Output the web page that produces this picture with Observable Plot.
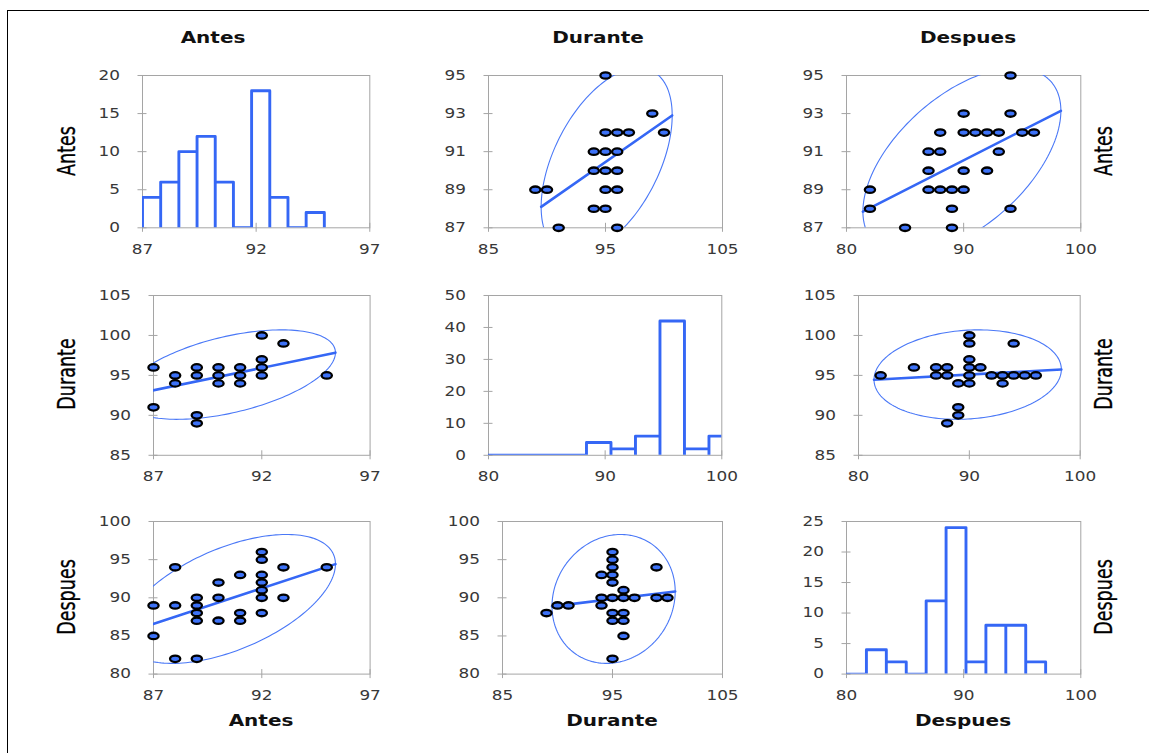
<!DOCTYPE html>
<html><head><meta charset="utf-8">
<script src="https://cdn.jsdelivr.net/npm/d3@7"></script>
<script src="https://cdn.jsdelivr.net/npm/@observablehq/plot@0.6"></script>
<style>
html,body{margin:0;padding:0;background:#fff;}
#page{position:relative;width:1149px;height:753px;overflow:hidden;background:#fff;}
.border{position:absolute;left:7px;top:10px;width:1300px;height:900px;border-top:1.5px solid #000;border-left:1.5px solid #000;}
.panel{position:absolute;}
.panel svg{overflow:visible;}
.title{position:absolute;font-family:"DejaVu Sans",Verdana,sans-serif;font-weight:bold;font-size:16px;color:#111;white-space:nowrap;line-height:1;transform:translate(-50%,-50%) scaleX(1.25);}
.rlabel{position:absolute;font-family:"Liberation Sans Narrow","DejaVu Sans Condensed",sans-serif;font-size:19.5px;color:#000;white-space:nowrap;line-height:1;transform:translate(-50%,-50%) scaleX(1.25) rotate(-90deg);-webkit-text-stroke:0.25px #000;}
</style></head>
<body>
<div id="page"><div class="border"></div></div>
<script>
// ---------------- DATA ----------------
const variables = ["Antes", "Durante", "Despues"];

// distinct paired observations [first variable, second variable]
const pairsAntesDurante = [[87,91],[87,96],[88,94],[88,95],[89,89],[89,90],[89,95],[89,96],[90,94],[90,95],[90,96],[91,94],[91,95],[91,96],[92,95],[92,96],[92,97],[92,100],[93,99],[95,95]];
const pairsAntesDespues = [[87,85],[87,89],[88,82],[88,89],[88,94],[89,82],[89,87],[89,88],[89,89],[89,90],[90,87],[90,90],[90,92],[91,87],[91,88],[91,93],[92,88],[92,90],[92,91],[92,92],[92,93],[92,95],[92,96],[93,90],[93,94],[95,94]];
const pairsDuranteDespues = [[89,88],[90,89],[91,89],[94,89],[94,90],[94,93],[95,82],[95,87],[95,88],[95,90],[95,92],[95,93],[95,94],[95,95],[95,96],[96,85],[96,87],[96,88],[96,90],[96,91],[97,90],[99,90],[99,94],[100,90]];

// histograms: first bin start, bin width, counts
const histStart = [87, 80, 80];
const histWidth = [0.8, 2.1, 1.7];
const histCountsAntes = [4,6,10,12,6,0,18,4,0,2];
const histCountsDurante = [0,0,0,0,4,2,6,42,2,6];
const histCountsDespues = [0,4,2,0,12,24,2,8,8,2];

// confidence ellipse parameters: centre, half extent per variable, correlation per pair
const means = [90.5, 95.1, 89.85];
const halfExtents = [4.9, 5.6, 8.45];
const corrAntesDurante = 0.49;
const corrAntesDespues = 0.54;
const corrDuranteDespues = 0.115;

// axis domains and tick labels
const xDomains = [[87,97],[85,105],[80,100]];
const xTickValues = [[87,92,97],[85,95,105],[80,90,100]];
const yDomains = [[87,95],[85,105],[80,100]];
const yTickValues = [[87,89,91,93,95],[85,90,95,100,105],[80,85,90,95,100]];
const histXDomains = [[87,97],[80,100],[80,100]];
const histXTicks = [[87,92,97],[80,90,100],[80,90,100]];
const histYDomains = [[0,20],[0,50],[0,25]];
const histYTicks = [[0,5,10,15,20],[0,10,20,30,40,50],[0,5,10,15,20,25]];

// ---------------- LAYOUT ----------------
const layout = [
  [[141.7,369,75,227.3],[487.7,721.7,75,227.3],[845.7,1080,75,227.3]],
  [[152.7,369.3,294.5,454.3],[487.7,721,294.5,454.3],[858.3,1080,294.5,454.3]],
  [[152.7,369.3,520.7,673.3],[501.7,721.7,520.7,673.3],[845.7,1080,520.7,673.3]]
];
const BLUE = "#3567f5", BLUE_THIN = "#4a78f7", FILL = "#3d72f7", GRAY = "#a5a5a5", TXT = "#383838";
const ML = 60, MR = 20, MT = 15, MB = 35;
const page = document.getElementById("page");

const histCounts = [histCountsAntes, histCountsDurante, histCountsDespues];
const pairsOf = {"0|1": pairsAntesDurante, "0|2": pairsAntesDespues, "1|2": pairsDuranteDespues};
const corrOf = {"0|1": corrAntesDurante, "0|2": corrAntesDespues, "1|2": corrDuranteDespues};

const ellipseSymbol = {
  draw(ctx, size) {
    const r = Math.sqrt(size / Math.PI), rx = r * 1.6, ry = r, k = 0.5523;
    ctx.moveTo(rx, 0);
    ctx.bezierCurveTo(rx, k*ry, k*rx, ry, 0, ry);
    ctx.bezierCurveTo(-k*rx, ry, -rx, k*ry, -rx, 0);
    ctx.bezierCurveTo(-rx, -k*ry, -k*rx, -ry, 0, -ry);
    ctx.bezierCurveTo(k*rx, -ry, rx, -k*ry, rx, 0);
    ctx.closePath();
  }
};

function axes(xt, yt) {
  return [
    Plot.axisX(xt, {tickSize: 9, dy: -4.5, tickPadding: 12, stroke: GRAY, fill: TXT, fontSize: 13.5, label: null}),
    Plot.axisY(yt, {tickSize: 9, dx: 4.5, tickPadding: 18, stroke: GRAY, fill: TXT, fontSize: 13.5, label: null})
  ];
}

function place(svg, x0, y0) {
  const div = document.createElement("div");
  div.className = "panel";
  div.style.left = (x0 - ML) + "px";
  div.style.top = (y0 - MT) + "px";
  div.appendChild(svg);
  page.appendChild(div);
  svg.querySelectorAll("text").forEach(t => {
    const L = t.getComputedTextLength();
    if (L > 0) { t.setAttribute("textLength", L * 1.25); t.setAttribute("lengthAdjust", "spacingAndGlyphs"); }
  });
}

for (let i = 0; i < 3; i++) {
  for (let j = 0; j < 3; j++) {
    const [x0, x1, y0, y1] = layout[i][j];
    const W = x1 - x0 + ML + MR, H = y1 - y0 + MT + MB;
    let marks;
    let xd, yd;
    if (i === j) {
      const outline = [];
      histCounts[i].forEach((c, k) => {
        const a = histStart[i] + k * histWidth[i], b = a + histWidth[i];
        outline.push({x: a, y: 0}, {x: a, y: c}, {x: b, y: c}, {x: b, y: 0});
      });
      xd = histXDomains[i]; yd = histYDomains[i];
      marks = [
        Plot.frame({stroke: GRAY}),
        ...axes(histXTicks[i], histYTicks[i]),
        Plot.line(outline, {x: "x", y: "y", stroke: BLUE, strokeWidth: 2.9, clip: true})
      ];
    } else {
      const lo = Math.min(i, j), hi = Math.max(i, j), key = lo + "|" + hi;
      const xIsLo = j === lo;
      const pts = pairsOf[key].map(p => xIsLo ? {x: p[0], y: p[1]} : {x: p[1], y: p[0]});
      const r = corrOf[key];
      const mx = means[j], ax = halfExtents[j], my = means[i], ay = halfExtents[i];
      const phi = Math.acos(r);
      const ell = d3.range(0, 361, 2).map(deg => {
        const t = deg * Math.PI / 180;
        return {x: mx + ax * Math.cos(t), y: my + ay * Math.cos(t - phi)};
      });
      const reg = [{x: mx - ax, y: my - ay * r}, {x: mx + ax, y: my + ay * r}];
      xd = xDomains[j]; yd = yDomains[i];
      marks = [
        Plot.frame({stroke: GRAY}),
        ...axes(xTickValues[j], yTickValues[i]),
        Plot.line(ell, {x: "x", y: "y", stroke: BLUE_THIN, strokeWidth: 1.1, clip: true}),
        Plot.line(reg, {x: "x", y: "y", stroke: BLUE, strokeWidth: 2.6, clip: true}),
        Plot.dot(pts, {x: "x", y: "y", r: 3.2, symbol: ellipseSymbol, fill: FILL, stroke: "#000", strokeWidth: 2.3})
      ];
    }
    const svg = Plot.plot({
      width: W, height: H,
      marginLeft: ML, marginRight: MR, marginTop: MT, marginBottom: MB,
      x: {type: "linear", domain: xd},
      y: {type: "linear", domain: yd},
      style: {fontFamily: "'DejaVu Sans', Verdana, sans-serif", fontSize: "13.5px", color: TXT, background: "transparent", overflow: "visible"},
      marks
    });
    place(svg, x0, y0);
  }
}

// titles
const topX = [212.5, 598, 967.5];
variables.forEach((v, k) => {
  const d = document.createElement("div");
  d.className = "title"; d.textContent = v;
  d.style.left = topX[k] + "px"; d.style.top = "37.5px";
  page.appendChild(d);
  const b = document.createElement("div");
  b.className = "title"; b.textContent = v;
  const [x0, x1] = layout[2][k];
  b.style.left = ((x0 + x1) / 2) + "px"; b.style.top = "721px";
  page.appendChild(b);
  const [, , y0, y1] = layout[k][0];
  const cy = (y0 + y1) / 2;
  [67, 1104].forEach(x => {
    const r = document.createElement("div");
    r.className = "rlabel"; r.textContent = v;
    r.style.left = x + "px"; r.style.top = cy + "px";
    page.appendChild(r);
  });
});
</script>
</body></html>
